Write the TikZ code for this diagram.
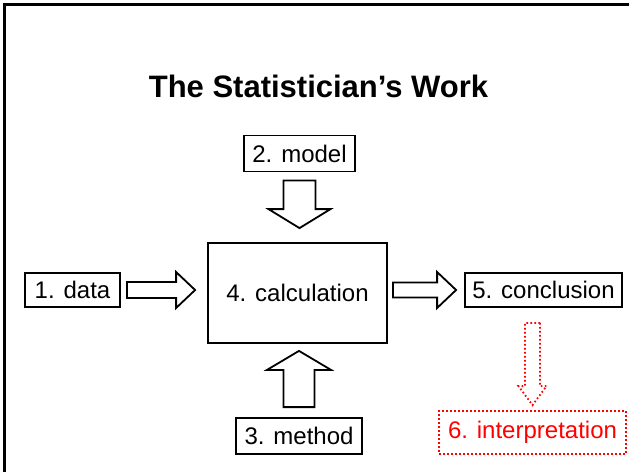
\documentclass[tikz,border=0pt]{standalone}
\usepackage{fontspec}
\setmainfont{Liberation Sans}
\usetikzlibrary{calc}

\begin{document}
\begin{tikzpicture}[x=1pt, y=1pt, line join=miter,
		box/.style={draw, line width=1.8pt, inner sep=0pt, font=\fontsize{24}{28}\selectfont},
		redbox/.style={box, red, dash pattern=on 1.6pt off 2.4pt},
		fat/.style={draw, line width=1.8pt},
		redfat/.style={fat, red, dash pattern=on 1.6pt off 2.4pt}]
	% #1 style, #2 from, #3 to, #4/#5 gaps, #6 shaft half, #7 head half
	\def\fatarrow#1#2#3#4#5#6#7{
		\coordinate (fa-s) at ($(#2)!#4!(#3)$);
		\coordinate (fa-e) at ($(#3)!#5!(#2)$);
		\coordinate (fa-b) at ($(fa-e)!19pt!(fa-s)$);
		\draw[#1] ($(fa-s)!#6!90:(fa-e)$) -- ($(fa-b)!#6!90:(fa-e)$) -- ($(fa-b)!#7!90:(fa-e)$) -- (fa-e)
			-- ($(fa-b)!#7!-90:(fa-e)$) -- ($(fa-b)!#6!-90:(fa-e)$) -- ($(fa-s)!#6!-90:(fa-e)$) -- cycle;
	}
	\useasboundingbox (0,0) rectangle (629,-472);
	\draw[line width=2.5pt] (629,-4.5) -- (4.5,-4.5) -- (4.5,-472);
	
	\node[font=\bfseries\fontsize{31}{36}\selectfont] (title) at (318.5,-86) {The Statistician’s Work};
	
	\node[box, minimum width=95, minimum height=34] (data) at (72.5,-290) {1. data};
	\node[box, minimum width=111, minimum height=36] (model) at (299.5,-153.5) {2. model};
	\node[box, minimum width=126, minimum height=36] (method) at (299,-436) {3. method};
	\node[box, minimum width=179, minimum height=100] (calc) at (297.5,-293) {4. calculation};
	\node[box, minimum width=157, minimum height=34] (concl) at (543.5,-290) {5. conclusion};
	\node[redbox, minimum width=187, minimum height=43] (interp) at (532.5,-432.5) {6. interpretation};
	
	\fatarrow{fat}{data.east}{calc.west |- data.east}{6pt}{12pt}{8pt}{18pt}
	\fatarrow{fat}{model.south}{calc.north -| model.south}{8pt}{14pt}{16pt}{31pt}
	\fatarrow{fat}{method.north}{calc.south -| method.north}{10pt}{7pt}{15.5pt}{32pt}
	\fatarrow{fat}{calc.east |- concl.west}{concl.west}{5pt}{8pt}{7.5pt}{18pt}
	\fatarrow{redfat}{concl.south -| interp.north}{interp.north}{15pt}{5pt}{7.5pt}{14pt}
\end{tikzpicture}
\end{document}
